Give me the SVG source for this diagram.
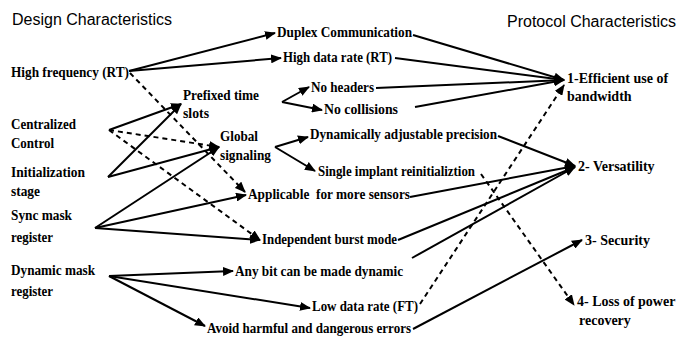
<svg xmlns="http://www.w3.org/2000/svg" width="678" height="350" viewBox="0 0 678 350">
<defs>
<marker id="ah" markerUnits="userSpaceOnUse" markerWidth="11" markerHeight="9" refX="10" refY="4.5" orient="auto">
<path d="M0,0 L11,4.5 L0,9 z" fill="#000"/>
</marker>
<style>
.hd{font-family:"Liberation Sans",Arial,sans-serif;font-size:16px;fill:#000}
.s{stroke:#000;stroke-width:2;fill:none}
.a{marker-end:url(#ah)}
.d{stroke-dasharray:5,4}
</style>
</defs>
<rect width="678" height="350" fill="#fff"/>
<g id="connectors">
<line class="s a" x1="129" y1="71" x2="275" y2="33"/>
<line class="s a" x1="129" y1="71" x2="281" y2="58"/>
<line class="s a d" x1="130" y1="73" x2="245" y2="192"/>
<line class="s a" x1="413" y1="35" x2="564" y2="80"/>
<line class="s a" x1="395" y1="58" x2="564" y2="80"/>
<line class="s a" x1="376" y1="88" x2="564" y2="80"/>
<line class="s a" x1="415" y1="107" x2="564" y2="80"/>
<line class="s a" x1="282" y1="102" x2="309" y2="87"/>
<line class="s a" x1="282" y1="102" x2="322" y2="110"/>
<line class="s a" x1="109" y1="130" x2="181" y2="104"/>
<line class="s a d" x1="109" y1="130" x2="219" y2="147"/>
<line class="s a d" x1="109" y1="130" x2="260" y2="240"/>
<line class="s a" x1="108" y1="177" x2="181" y2="104"/>
<line class="s a" x1="108" y1="177" x2="219" y2="147"/>
<line class="s a" x1="95" y1="228" x2="219" y2="147"/>
<line class="s a" x1="95" y1="228" x2="246" y2="195"/>
<line class="s a" x1="95" y1="228" x2="260" y2="240"/>
<line class="s a" x1="275" y1="147" x2="308" y2="137"/>
<line class="s a" x1="275" y1="147" x2="315" y2="171"/>
<line class="s a" x1="498" y1="136" x2="575" y2="166"/>
<line class="s a" x1="410" y1="197" x2="575" y2="166"/>
<line class="s a" x1="398" y1="240" x2="575" y2="167"/>
<line class="s a" x1="412" y1="258" x2="575" y2="167"/>
<line class="s a d" x1="481" y1="174" x2="574" y2="305"/>
<line class="s a d" x1="420" y1="304" x2="564" y2="85"/>
<line class="s a" x1="413" y1="329" x2="582" y2="240"/>
<line class="s a" x1="109" y1="276" x2="233" y2="271"/>
<line class="s a" x1="109" y1="276" x2="310" y2="308"/>
<line class="s a" x1="109" y1="276" x2="205" y2="326"/>
</g>
<g id="headers">
<text class="hd" x="12" y="25">Design Characteristics</text>
<text class="hd" x="507" y="27">Protocol Characteristics</text>
</g>
<g font-family="'Liberation Serif', 'Times New Roman', serif" font-size="14" font-weight="bold" fill="#000">
<g id="n-highfreq"><text x="11" y="77" textLength="118" lengthAdjust="spacingAndGlyphs">High frequency (RT)</text></g>
<g id="n-centralized"><text x="11" y="129" textLength="65" lengthAdjust="spacingAndGlyphs">Centralized</text><text x="11" y="148" textLength="43" lengthAdjust="spacingAndGlyphs">Control</text></g>
<g id="n-init"><text x="11" y="177" textLength="74" lengthAdjust="spacingAndGlyphs">Initialization</text><text x="11" y="196" textLength="29" lengthAdjust="spacingAndGlyphs">stage</text></g>
<g id="n-sync"><text x="11" y="220" textLength="61" lengthAdjust="spacingAndGlyphs">Sync mask</text><text x="11" y="242" textLength="42" lengthAdjust="spacingAndGlyphs">register</text></g>
<g id="n-dynmask"><text x="11" y="275" textLength="84" lengthAdjust="spacingAndGlyphs">Dynamic mask</text><text x="11" y="296" textLength="42" lengthAdjust="spacingAndGlyphs">register</text></g>
<g id="n-duplex"><text x="277" y="37" textLength="135" lengthAdjust="spacingAndGlyphs">Duplex Communication</text></g>
<g id="n-highdata"><text x="283" y="62" textLength="109" lengthAdjust="spacingAndGlyphs">High data rate (RT)</text></g>
<g id="n-noheaders"><text x="311" y="92" textLength="63" lengthAdjust="spacingAndGlyphs">No headers</text></g>
<g id="n-nocoll"><text x="324" y="114" textLength="74" lengthAdjust="spacingAndGlyphs">No collisions</text></g>
<g id="n-prefixed"><text x="183" y="100" textLength="76" lengthAdjust="spacingAndGlyphs">Prefixed time</text><text x="183" y="118" textLength="26" lengthAdjust="spacingAndGlyphs">slots</text></g>
<g id="n-global"><text x="220" y="141" textLength="38" lengthAdjust="spacingAndGlyphs">Global</text><text x="220" y="160" textLength="51" lengthAdjust="spacingAndGlyphs">signaling</text></g>
<g id="n-dynadj"><text x="310" y="139" textLength="187" lengthAdjust="spacingAndGlyphs">Dynamically adjustable precision</text></g>
<g id="n-single"><text x="318" y="176" textLength="157" lengthAdjust="spacingAndGlyphs">Single implant reinitializtion</text></g>
<g id="n-applicable"><text x="248" y="199" xml:space="preserve" textLength="162" lengthAdjust="spacingAndGlyphs">Applicable  for more sensors</text></g>
<g id="n-indep"><text x="262" y="244" textLength="135" lengthAdjust="spacingAndGlyphs">Independent burst mode</text></g>
<g id="n-anybit"><text x="235" y="276" textLength="168" lengthAdjust="spacingAndGlyphs">Any bit can be made dynamic</text></g>
<g id="n-lowdata"><text x="312" y="311" textLength="106" lengthAdjust="spacingAndGlyphs">Low data rate (FT)</text></g>
<g id="n-avoid"><text x="207" y="333" textLength="204" lengthAdjust="spacingAndGlyphs">Avoid harmful and dangerous errors</text></g>
</g>
<g font-family="'Liberation Serif', 'Times New Roman', serif" font-size="14" font-weight="bold" fill="#000">
<g id="p-eff"><text x="567" y="83">1-Efficient use of</text><text x="567" y="101">bandwidth</text></g>
<g id="p-vers"><text x="578" y="171">2- Versatility</text></g>
<g id="p-sec"><text x="585" y="245">3- Security</text></g>
<g id="p-loss"><text x="577" y="306">4- Loss of power</text><text x="579" y="325">recovery</text></g>
</g>
</svg>
